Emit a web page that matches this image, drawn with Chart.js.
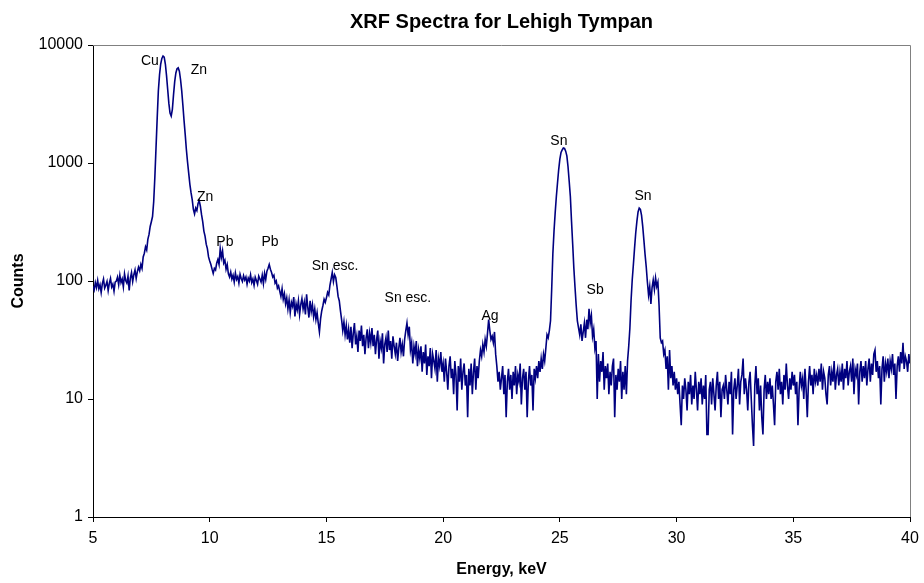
<!DOCTYPE html>
<html>
<head>
<meta charset="utf-8">
<title>XRF Spectra for Lehigh Tympan</title>
<script src="https://cdn.jsdelivr.net/npm/chart.js@4.4.1/dist/chart.umd.min.js"></script>
<style>
  body { margin: 0; background: #fff; }
  canvas { display: block; }
</style>
</head>
<body>
<canvas id="xrf-chart" width="924" height="583"></canvas>
<script>
// Spectrum channels: 5.00 to 40.00 keV, 0.05 keV per channel
const energyStart = 5;
const energyStep = 0.05;

// Counts per channel, one row per keV
const counts = [
  90, 84, 97, 88, 101, 86, 93, 80, 95, 104, 87, 92, 99, 83, 96, 105, 89, 94, 82, 98,
  100, 108, 93, 112, 97, 104, 89, 115, 101, 96, 110, 83, 106, 118, 99, 113, 124, 105, 120, 131,
  122, 138, 128, 160, 172, 195, 183, 225, 248, 290, 318, 352, 470, 760, 1350, 2400, 4100, 5600, 6900, 7700,
  8050, 7900, 6900, 5500, 4200, 3200, 2650, 2500, 2850, 3800, 4900, 5800, 6300, 6400, 6000, 5100, 4100, 3100, 2300, 1750,
  1300, 1020, 820, 660, 560, 490, 405, 370, 415, 395, 455, 480, 430, 365, 318, 265, 240, 205, 188, 160,
  148, 138, 126, 116, 128, 124, 142, 152, 138, 188, 158, 180, 142, 150, 126, 138, 115, 108, 119, 104,
  112, 98, 117, 103, 109, 96, 114, 105, 99, 111, 102, 108, 94, 106, 100, 113, 97, 104, 92, 108,
  101, 94, 110, 104, 98, 112, 95, 116, 103, 121, 128, 138, 126, 118, 108, 112, 96, 100, 87, 91,
  82, 74, 86, 70, 78, 64, 72, 58, 69, 54, 66, 61, 73, 50, 64, 57, 68, 52, 63, 71,
  58, 66, 52, 77, 60, 49, 68, 55, 63, 50, 58, 47, 54, 44, 37, 48, 56, 62, 70, 66,
  72, 80, 76, 92, 104, 118, 99, 113, 107, 90, 74, 68, 56, 47, 38, 45, 35, 42, 32, 39,
  30, 41, 27, 36, 44, 29, 34, 25, 38, 31, 42, 28, 35, 24, 33, 39, 27, 36, 30, 40,
  28, 35, 24, 32, 38, 22, 31, 27, 36, 20, 29, 33, 25, 38, 26, 31, 22, 34, 28, 24,
  30, 21, 27, 33, 25, 29, 23, 32, 38, 44, 35, 41, 26, 30, 20, 28, 24, 31, 19, 26,
  22, 28, 17, 25, 20, 29, 16, 23, 19, 27, 15, 24, 21, 18, 26, 14, 22, 19, 25, 17,
  20, 14, 22, 17, 12, 19, 23, 15, 18, 11, 21, 16, 8, 19, 14, 22, 12, 17, 20, 13,
  16, 7, 18, 13, 20, 11, 17, 22, 12, 19, 15, 21, 26, 23, 29, 25, 32, 28, 36, 47,
  38, 32, 34, 30, 37, 24, 19, 14, 17, 12, 15, 19, 11, 16, 7, 14, 18, 12, 16, 10,
  17, 13, 19, 11, 16, 14, 20, 9, 15, 18, 12, 17, 7, 14, 19, 13, 16, 8, 18, 15,
  19, 15, 21, 17, 22, 18, 24, 21, 27, 35, 33, 38, 46, 85, 170, 265, 380, 520, 680, 880,
  1080, 1230, 1290, 1340, 1330, 1260, 1150, 930, 700, 520, 320, 205, 128, 88, 62, 46, 40, 35, 43, 31,
  37, 44, 33, 47, 39, 58, 44, 51, 34, 39, 27, 31, 10, 24, 14, 21, 17, 25, 12, 19,
  15, 20, 11, 17, 13, 19, 22, 7, 16, 12, 18, 14, 21, 10, 17, 12, 19, 11, 21, 28,
  40, 68, 102, 138, 190, 255, 320, 385, 415, 405, 360, 290, 222, 168, 132, 98, 76, 90, 64, 88,
  102, 85, 106, 90, 98, 62, 33, 30, 31, 24, 26, 18, 23, 12, 26, 15, 19, 13, 17, 12,
  15, 11, 14, 9, 6, 13, 10, 15, 12, 8, 14, 11, 16, 9, 13, 10, 17, 12, 8, 14,
  11, 15, 9, 13, 10, 16, 5, 5, 12, 14, 9, 15, 11, 8, 13, 17, 10, 14, 7, 12,
  13, 10, 16, 12, 9, 14, 11, 17, 5, 12, 15, 10, 13, 18, 9, 14, 16, 22, 11, 15,
  12, 8, 14, 17, 10, 6, 4, 13, 19, 11, 15, 8, 13, 7, 5, 12, 16, 10, 14, 11,
  15, 10, 13, 9, 6, 14, 17, 12, 18, 11, 14, 9, 16, 12, 20, 13, 10, 15, 12, 17,
  13, 16, 11, 14, 6, 12, 17, 13, 15, 10, 18, 12, 7, 14, 19, 13, 16, 11, 18, 14,
  16, 13, 18, 14, 20, 12, 17, 15, 11, 9, 16, 19, 13, 17, 14, 21, 12, 16, 18, 13,
  17, 14, 20, 12, 18, 15, 21, 13, 17, 19, 14, 22, 11, 18, 16, 20, 9, 17, 21, 14,
  19, 15, 21, 13, 18, 22, 14, 20, 16, 24, 26, 17, 21, 15, 19, 9, 18, 23, 14, 20,
  17, 22, 15, 21, 18, 24, 16, 20, 10, 19, 23, 17, 25, 20, 30, 18, 23, 21, 17, 24, 20
];

// Peak labels (text, energy in keV, counts where the label sits)
const peakNames = ["Cu", "Zn", "Zn", "Pb", "Pb", "Sn esc.", "Sn esc.", "Ag", "Sn", "Sb", "Sn"];
const peakEnergy = [7.44, 9.54, 9.8, 10.65, 12.58, 15.37, 18.49, 22.01, 24.96, 26.51, 28.56];
const peakCounts = [7320, 6140, 515, 214, 214, 134, 71.8, 50.5, 1536, 84, 525];

// Axis ticks
const yTickValues = [1, 10, 100, 1000, 10000];

const fontFamily = "'Liberation Sans', Arial, sans-serif";

const spectrum = counts.map((c, i) => ({
  x: +(energyStart + i * energyStep).toFixed(2),
  y: c
}));

// Title, box edges and peak labels
const annotatePlugin = {
  id: "annotate",
  afterDraw(chart) {
    const { ctx, chartArea, scales } = chart;
    ctx.save();

    // gray top and right frame
    ctx.strokeStyle = "#808080";
    ctx.lineWidth = 1;
    ctx.beginPath();
    ctx.moveTo(chartArea.left, chartArea.top + 0.5);
    ctx.lineTo(chartArea.right + 0.5, chartArea.top + 0.5);
    ctx.lineTo(chartArea.right + 0.5, chartArea.bottom);
    ctx.stroke();

    // title over the plot area
    ctx.fillStyle = "#000";
    ctx.textAlign = "center";
    ctx.textBaseline = "middle";
    ctx.font = "bold 20px " + fontFamily;
    ctx.fillText("XRF Spectra for Lehigh Tympan", (chartArea.left + chartArea.right) / 2, 22);

    // peak names
    ctx.font = "14px " + fontFamily;
    peakNames.forEach((name, i) => {
      const x = scales.x.getPixelForValue(peakEnergy[i]);
      const y = scales.y.getPixelForValue(peakCounts[i]);
      ctx.fillText(name, x, y);
    });
    ctx.restore();
  }
};

const ctx = document.getElementById("xrf-chart");

new Chart(ctx, {
  type: "line",
  data: {
    datasets: [{
      data: spectrum,
      borderColor: "#000080",
      borderWidth: 1.6,
      pointRadius: 0,
      tension: 0,
      fill: false
    }]
  },
  options: {
    responsive: false,
    animation: false,
    layout: { autoPadding: false, padding: { left: 0, right: 14, top: 45, bottom: 0 } },
    plugins: {
      legend: { display: false },
      tooltip: { enabled: false },
      title: { display: false }
    },
    scales: {
      x: {
        type: "linear",
        min: 5,
        max: 40,
        afterFit: scale => {
          scale.height = 66;
          // keep the "40" label from pushing the plot edge inwards
          scale.paddingLeft = 10;
          scale.paddingRight = 10;
        },
        ticks: {
          stepSize: 5,
          color: "#000",
          padding: 7,
          maxRotation: 0,
          font: { family: fontFamily, size: 16 }
        },
        grid: {
          drawOnChartArea: false,
          drawTicks: true,
          tickLength: 5,
          color: "#000"
        },
        border: { display: true, color: "#000", width: 1 },
        title: {
          display: true,
          text: "Energy, keV",
          color: "#000",
          padding: { top: 0, bottom: 4 },
          font: { family: fontFamily, size: 16, weight: "bold" }
        }
      },
      y: {
        type: "logarithmic",
        min: 1,
        max: 10000,
        afterFit: scale => { scale.width = 93; },
        afterBuildTicks: scale => {
          scale.ticks = yTickValues.map(v => ({ value: v }));
        },
        ticks: {
          color: "#000",
          padding: 5,
          callback: v => String(v),
          font: { family: fontFamily, size: 16 }
        },
        grid: {
          drawOnChartArea: false,
          drawTicks: true,
          tickLength: 5,
          color: "#000"
        },
        border: { display: true, color: "#000", width: 1 },
        title: {
          display: true,
          text: "Counts",
          color: "#000",
          padding: { top: 9, bottom: 0 },
          font: { family: fontFamily, size: 16, weight: "bold" }
        }
      }
    }
  },
  plugins: [annotatePlugin]
});
</script>
</body>
</html>
